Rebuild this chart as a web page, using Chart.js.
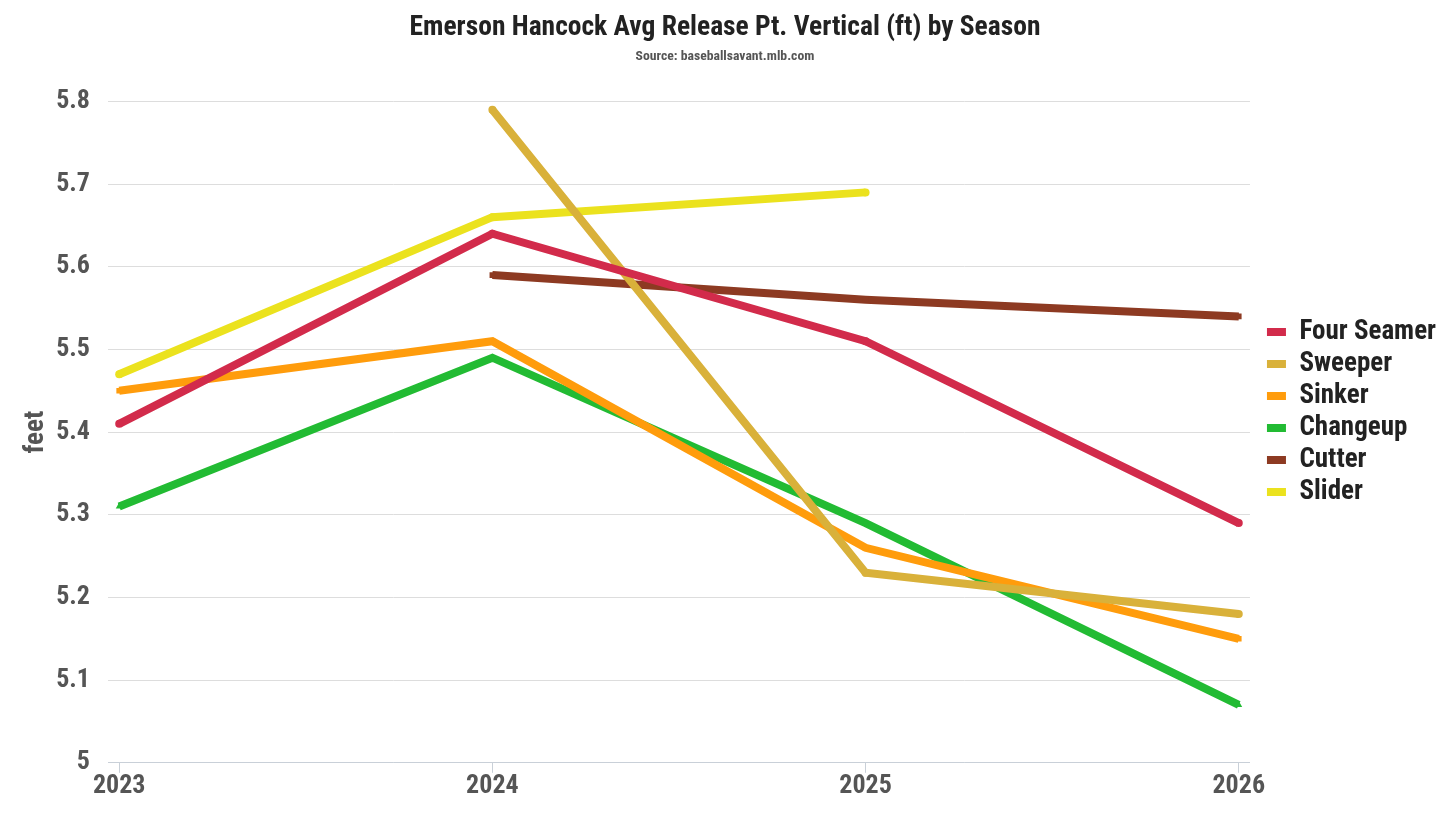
<!DOCTYPE html>
<html>
<head>
<meta charset="utf-8">
<script src="https://cdn.jsdelivr.net/npm/chart.js@4/dist/chart.umd.min.js"></script>
<style>
    html, body { margin: 0; padding: 0; background: #ffffff; }
    #wrap { width: 1456px; height: 819px; }
</style>
</head>
<body>
<div id="wrap"><canvas id="releaseChart"></canvas></div>
<script>
const seasons = [2023, 2024, 2025, 2026];
const yTicks = [5, 5.1, 5.2, 5.3, 5.4, 5.5, 5.6, 5.7, 5.8];

const fourSeamer = [5.41, 5.64, 5.51, 5.29];
const sweeper = [null, 5.79, 5.23, 5.18];
const sinker = [5.45, 5.51, 5.26, 5.15];
const changeup = [5.31, 5.49, 5.29, 5.07];
const cutter = [null, 5.59, 5.56, 5.54];
const slider = [5.47, 5.66, 5.69, null];

const font = '"Roboto Condensed", "Liberation Sans Narrow", Roboto, sans-serif';

const toPoints = (values) => seasons
    .map((s, i) => ({ x: s, y: values[i] }))
    .filter((p) => p.y !== null);

const series = (label, values, color, pointStyle) => ({
    label,
    data: toPoints(values),
    borderColor: color,
    backgroundColor: color,
    borderWidth: 8,
    pointStyle,
    pointRadius: 4,
    pointBorderWidth: 0,
    tension: 0
});

// nudge the legend a little right and down, like the original
const legendNudge = {
    id: 'legendNudge',
    afterLayout: (chart) => {
        const lg = chart.legend;
        lg.left += 12;
        lg.right += 12;
        lg.top += 10;
        lg.bottom += 10;
    }
};

new Chart(document.getElementById('releaseChart'), {
    type: 'line',
    data: {
        datasets: [
            series('Four Seamer', fourSeamer, '#d22b4b', 'circle'),
            series('Sweeper', sweeper, '#d9b13a', 'circle'),
            series('Sinker', sinker, '#ff9c0c', 'rect'),
            series('Changeup', changeup, '#22bb33', 'triangle'),
            series('Cutter', cutter, '#8d3a22', 'rect'),
            series('Slider', slider, '#ebe21e', 'circle')
        ]
    },
    plugins: [legendNudge],
    options: {
        responsive: true,
        maintainAspectRatio: false,
        animation: false,
        layout: {
            padding: { left: 16, right: 22, top: 4, bottom: 19 }
        },
        plugins: {
            title: {
                display: true,
                text: 'Emerson Hancock Avg Release Pt. Vertical (ft) by Season',
                color: '#222222',
                font: { family: font, size: 27.5, weight: 'bold' },
                padding: { top: 8, bottom: 3 }
            },
            subtitle: {
                display: true,
                text: 'Source: baseballsavant.mlb.com',
                color: '#555555',
                font: { family: font, size: 13.7, weight: 'bold' },
                padding: { bottom: 37 }
            },
            legend: {
                position: 'right',
                labels: {
                    color: '#222222',
                    font: { family: font, size: 27, weight: 'bold' },
                    boxWidth: 19,
                    boxHeight: 8,
                    padding: 5,
                    generateLabels: (chart) => Chart.defaults.plugins.legend.labels
                        .generateLabels(chart)
                        .map((item) => ({ ...item, lineWidth: 0 }))
                }
            },
            tooltip: { enabled: false }
        },
        scales: {
            x: {
                type: 'linear',
                min: 2022.97,
                max: 2026.03,
                grid: {
                    drawOnChartArea: false,
                    color: '#c9d0d8',
                    tickLength: 10
                },
                border: { color: '#c9d0d8' },
                afterBuildTicks: (axis) => {
                    axis.ticks = seasons.map((v) => ({ value: v }));
                },
                ticks: {
                    color: '#555555',
                    font: { family: font, size: 26, weight: 'bold' },
                    padding: -2,
                    maxRotation: 0,
                    callback: (value) => String(value)
                }
            },
            y: {
                min: 5,
                max: 5.8,
                afterBuildTicks: (axis) => {
                    axis.ticks = yTicks.map((v) => ({ value: v }));
                },
                afterFit: (axis) => {
                    axis.width = 92;
                },
                grid: {
                    color: '#dddddd',
                    drawTicks: false
                },
                border: { display: false },
                title: {
                    display: true,
                    text: 'feet',
                    color: '#555555',
                    font: { family: font, size: 27, weight: 'bold' },
                    padding: { top: 4, bottom: 0 }
                },
                ticks: {
                    color: '#555555',
                    font: { family: font, size: 26, weight: 'bold' },
                    padding: 18,
                    callback: (value) => String(value)
                }
            }
        }
    }
});
</script>
</body>
</html>
